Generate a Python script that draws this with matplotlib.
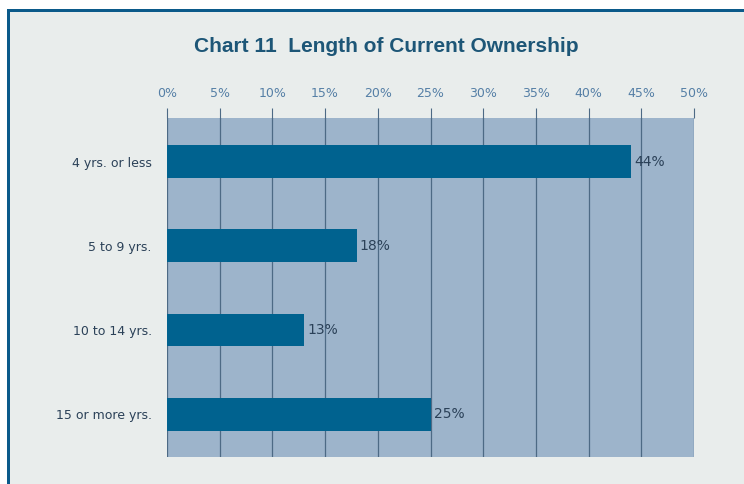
import matplotlib.pyplot as plt
from matplotlib.patches import Rectangle

plt.rcParams["font.family"] = ["DejaVu Sans"]

categories = ["4 yrs. or less", "5 to 9 yrs.", "10 to 14 yrs.", "15 or more yrs."]
shares = [44, 18, 13, 25]
tick_values = [0, 5, 10, 15, 20, 25, 30, 35, 40, 45, 50]
tick_labels = [f"{v}%" for v in tick_values]

BAR = "#00628f"
PLOT_BG = "#9db4cb"
GRID = "#4d6a85"
PAGE = "#e9edec"
FRAME = "#0b5a8a"
TITLE = "#1d5677"
TEXT = "#2b4158"

fig = plt.figure(figsize=(7.44, 4.84), dpi=100)
fig.patch.set_facecolor("white")

# framed panel: dark blue border on the top and left edges
W, H = 744, 484
fig.patches.append(Rectangle((8 / W, 0), 1.0, (H - 11) / H, transform=fig.transFigure,
                             facecolor=PAGE, edgecolor="none", zorder=-2))
fig.patches.append(Rectangle((7 / W, 0), 3 / W, (H - 9) / H, transform=fig.transFigure,
                             facecolor=FRAME, edgecolor="none", zorder=-1))
fig.patches.append(Rectangle((7 / W, (H - 12) / H), 1.0, 3 / H, transform=fig.transFigure,
                             facecolor=FRAME, edgecolor="none", zorder=-1))

ax = fig.add_axes([167 / W, 27 / H, (694 - 167) / W, (457 - 118) / H])
ax.set_facecolor(PLOT_BG)

y = list(range(len(categories)))
ax.barh(y, shares, height=0.39, color=BAR, zorder=3)
for yi, v in zip(y, shares):
    ax.text(v + 0.3, yi, f"{v}%", va="center", ha="left", fontsize=10,
            color=TEXT, zorder=4)

ax.set_xlim(0, 50)
ax.set_ylim(3.51, -0.52)
ax.set_xticks(tick_values)
ax.set_xticklabels(tick_labels)
ax.xaxis.tick_top()
ax.tick_params(axis="x", direction="out", length=7, width=0.8, color=GRID,
               labelsize=9, labelcolor="#557fa6", pad=6)
ax.set_yticks(y)
ax.set_yticklabels(categories)
ax.tick_params(axis="y", length=0, labelsize=9, labelcolor=TEXT, pad=11)
ax.grid(axis="x", color=GRID, linewidth=0.9, zorder=1)
for s in ax.spines.values():
    s.set_visible(False)

fig.text(386 / W, 1 - 47 / H, "Chart 11  Length of Current Ownership",
         ha="center", va="center", fontsize=15, fontweight="bold", color=TITLE,
         family=["Liberation Sans", "DejaVu Sans"])

fig.savefig("out.png", dpi=100, facecolor=fig.get_facecolor())
